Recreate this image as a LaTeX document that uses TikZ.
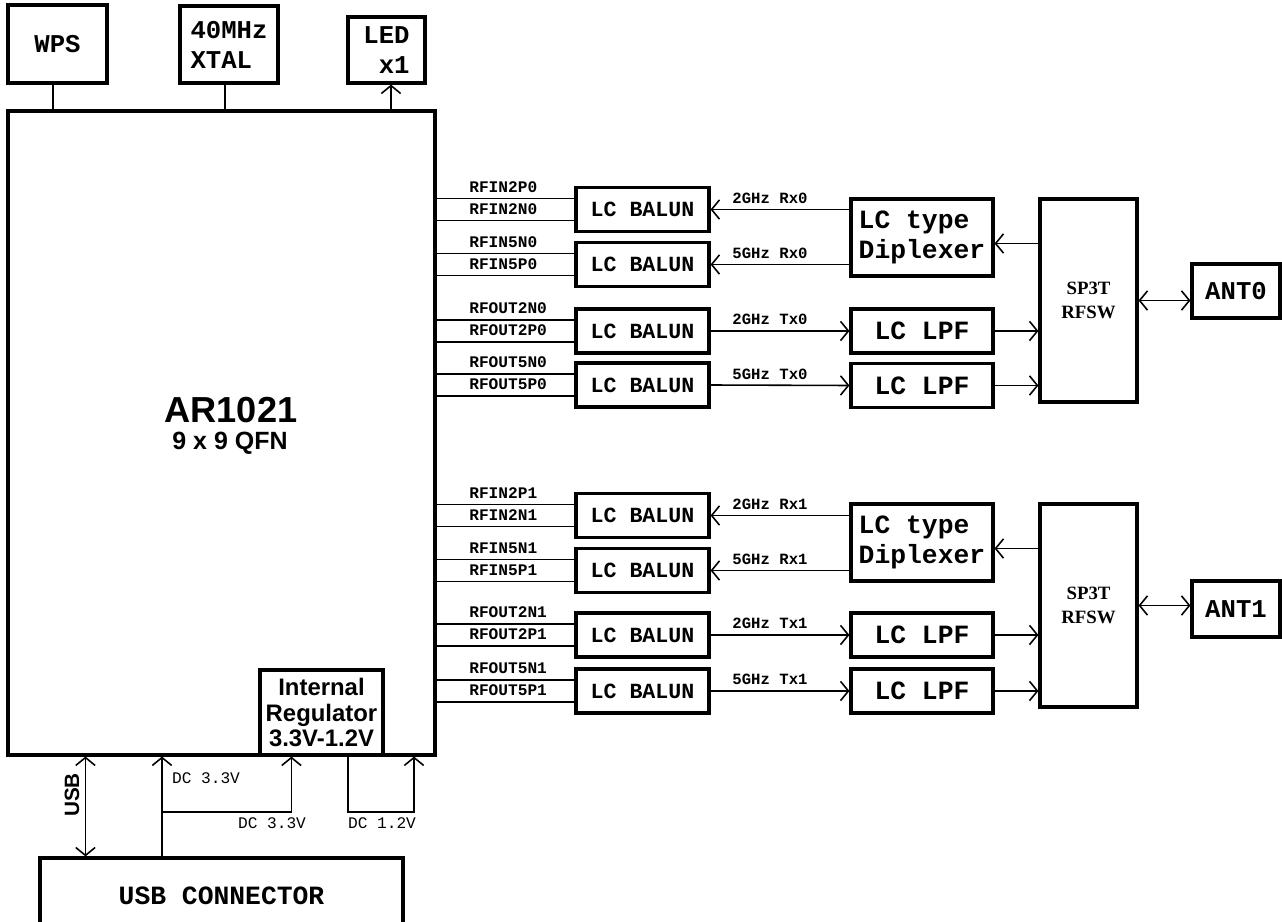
\documentclass[tikz,border=0pt]{standalone}
\usepackage{fontspec}
\usetikzlibrary{arrows.meta}
\newfontfamily\courfont{Liberation Mono}
\newfontfamily\arialfont{Liberation Sans}
\newfontfamily\swfont{Liberation Serif}

\begin{document}
\begin{tikzpicture}[
    x=0.02cm,y=-0.02cm,
    every node/.style={align=center},
    box/.style={rectangle,draw,line width=1.8pt,inner sep=0pt},
    topbox/.style={box,font=\courfont\bfseries\fontsize{14.6}{17}\selectfont},
    balun/.style={box,minimum width=2.66cm,minimum height=0.88cm,font=\courfont\bfseries\fontsize{12.3}{14}\selectfont},
    filt/.style={box,minimum width=2.84cm,minimum height=0.88cm,font=\courfont\bfseries\fontsize{15}{17}\selectfont},
    dip/.style={filt,minimum height=1.54cm,align=left},
    rfsw/.style={box,minimum width=1.94cm,minimum height=4.06cm,font=\swfont\bfseries\fontsize{10.7}{14}\selectfont},
    ant/.style={box,minimum width=1.76cm,minimum height=1.08cm,font=\courfont\bfseries\fontsize{14.6}{17}\selectfont},
    pin/.style={font=\courfont\bfseries\fontsize{9.2}{11}\selectfont,anchor=south west,inner xsep=0pt,inner ysep=3pt,xshift=0.64cm},
    band/.style={font=\courfont\bfseries\fontsize{8.9}{11}\selectfont,midway,anchor=south,inner ysep=3pt,xshift=-0.2cm},
    dclbl/.style={font=\courfont\fontsize{9.2}{11}\selectfont,inner sep=0pt},
    wire/.style={line width=0.9pt},
    arr/.style={-{Straight Barb[length=4.5pt,width=11pt]},line width=0.9pt},
    dbl/.style={{Straight Barb[length=4.5pt,width=11pt]}-{Straight Barb[length=4.5pt,width=11pt]},line width=0.9pt}
  ]
    \useasboundingbox (0,0) rectangle (1282,922);

    \node[topbox,minimum width=1.98cm,minimum height=1.56cm] (wps) at (57.5,44) {WPS};
    \node[topbox,minimum width=1.96cm,minimum height=1.54cm,align=left] (xtal) at (229,44.5) {40MHz\\XTAL};
    \node[topbox,minimum width=1.54cm,minimum height=1.32cm,align=right] (led) at (386.5,50) {LED\\x1};
    \node[box,minimum width=8.54cm,minimum height=12.88cm] (chip) at (221.5,433) {};
    \node[font=\arialfont\bfseries\fontsize{20.6}{24}\selectfont] (chipname) at (231,410) {AR1021};
    \node[font=\arialfont\bfseries\fontsize{14.2}{17}\selectfont] (chippkg) at (230,443) {9 x 9 QFN};
    \node[box,minimum width=2.46cm,minimum height=1.7cm,font=\arialfont\bfseries\fontsize{13.6}{14.7}\selectfont] (reg) at (321.5,712.5) {Internal\\Regulator\\3.3V-1.2V};
    \node[box,minimum width=7.26cm,minimum height=1.52cm,font=\courfont\bfseries\fontsize{15}{17}\selectfont] (usbc) at (221.5,896) {USB CONNECTOR};

    \draw[wire] ([xshift=-0.09cm]wps.south) -- ([xshift=-0.09cm]wps.south |- chip.north);
    \draw[wire] ([xshift=-0.08cm]xtal.south) -- ([xshift=-0.08cm]xtal.south |- chip.north);
    \draw[arr] ([xshift=0.09cm]led.south |- chip.north) -- ([xshift=0.09cm]led.south);

    \draw[dbl] ([xshift=0.94cm]usbc.north west) -- ([xshift=0.94cm]usbc.north west |- chip.south);
    \node[rotate=90,font=\arialfont\bfseries\fontsize{11.8}{14}\selectfont] (usblbl) at (72,795) {USB};
    \coordinate (dcx) at (162,812);
    \draw[arr] (dcx |- usbc.north) -- (dcx |- chip.south);
    \draw[arr] (dcx) -| ([xshift=0.66cm]reg.south west);
    \coordinate (vlo) at (348,812);
    \coordinate (vhi) at (414,812);
    \draw[arr] (vlo |- chip.south) -- (vlo) -- (vhi) -- (vhi |- chip.south);
    \node[dclbl] (dc1) at (206,778) {DC 3.3V};
    \node[dclbl] (dc2) at (272,823) {DC 3.3V};
    \node[dclbl] (dc3) at (382,823) {DC 1.2V};

    \node[balun] (b1) at (642.5,209.5) {LC BALUN};
    \node[balun] (b2) at (642.5,264.5) {LC BALUN};
    \node[balun] (b3) at (642.5,331) {LC BALUN};
    \node[balun] (b4) at (642.5,385) {LC BALUN};
    \node[dip] (dip0) at (922,237.5) {LC type\\Diplexer};
    \node[filt] (lpf0a) at (922,331) {LC LPF};
    \node[filt] (lpf0b) at (922,385.5) {LC LPF};
    \node[rfsw] (sw0) at (1088.5,300.5) {SP3T\\RFSW};
    \node[ant,minimum height=1.08cm] (ant0) at (1236,291) {ANT0};

    \node[balun] (b5) at (642.5,515.5) {LC BALUN};
    \node[balun] (b6) at (642.5,570.5) {LC BALUN};
    \node[balun] (b7) at (642.5,635) {LC BALUN};
    \node[balun] (b8) at (642.5,691) {LC BALUN};
    \node[dip] (dip1) at (922,542.5) {LC type\\Diplexer};
    \node[filt] (lpf1a) at (922,635) {LC LPF};
    \node[filt] (lpf1b) at (922,691) {LC LPF};
    \node[rfsw] (sw1) at (1088.5,605.5) {SP3T\\RFSW};
    \node[ant,minimum height=1.12cm] (ant1) at (1236,609) {ANT1};

    \draw[wire] ([yshift=0.22cm]b1.west -| chip.east) -- ([yshift=0.22cm]b1.west) node[pin,pos=0] {RFIN2P0};
    \draw[wire] ([yshift=-0.22cm]b1.west -| chip.east) -- ([yshift=-0.22cm]b1.west) node[pin,pos=0] {RFIN2N0};
    \draw[wire] ([yshift=0.22cm]b2.west -| chip.east) -- ([yshift=0.22cm]b2.west) node[pin,pos=0] {RFIN5N0};
    \draw[wire] ([yshift=-0.22cm]b2.west -| chip.east) -- ([yshift=-0.22cm]b2.west) node[pin,pos=0] {RFIN5P0};
    \draw[wire] ([yshift=0.22cm]b3.west -| chip.east) -- ([yshift=0.22cm]b3.west) node[pin,pos=0] {RFOUT2N0};
    \draw[wire] ([yshift=-0.22cm]b3.west -| chip.east) -- ([yshift=-0.22cm]b3.west) node[pin,pos=0] {RFOUT2P0};
    \draw[wire] ([yshift=0.22cm]b4.west -| chip.east) -- ([yshift=0.22cm]b4.west) node[pin,pos=0] {RFOUT5N0};
    \draw[wire] ([yshift=-0.22cm]b4.west -| chip.east) -- ([yshift=-0.22cm]b4.west) node[pin,pos=0] {RFOUT5P0};

    \draw[wire] ([yshift=0.22cm]b5.west -| chip.east) -- ([yshift=0.22cm]b5.west) node[pin,pos=0] {RFIN2P1};
    \draw[wire] ([yshift=-0.22cm]b5.west -| chip.east) -- ([yshift=-0.22cm]b5.west) node[pin,pos=0] {RFIN2N1};
    \draw[wire] ([yshift=0.22cm]b6.west -| chip.east) -- ([yshift=0.22cm]b6.west) node[pin,pos=0] {RFIN5N1};
    \draw[wire] ([yshift=-0.22cm]b6.west -| chip.east) -- ([yshift=-0.22cm]b6.west) node[pin,pos=0] {RFIN5P1};
    \draw[wire] ([yshift=0.22cm]b7.west -| chip.east) -- ([yshift=0.22cm]b7.west) node[pin,pos=0] {RFOUT2N1};
    \draw[wire] ([yshift=-0.22cm]b7.west -| chip.east) -- ([yshift=-0.22cm]b7.west) node[pin,pos=0] {RFOUT2P1};
    \draw[wire] ([yshift=0.22cm]b8.west -| chip.east) -- ([yshift=0.22cm]b8.west) node[pin,pos=0] {RFOUT5N1};
    \draw[wire] ([yshift=-0.22cm]b8.west -| chip.east) -- ([yshift=-0.22cm]b8.west) node[pin,pos=0] {RFOUT5P1};

    \draw[arr] (dip0.west |- b1.east) -- (b1.east) node[band] {2GHz Rx0};
    \draw[arr] (dip0.west |- b2.east) -- (b2.east) node[band] {5GHz Rx0};
    \draw[arr] (b3.east) -- (lpf0a.west) node[band] {2GHz Tx0};
    \draw[arr] (b4.east) -- (lpf0b.west) node[band] {5GHz Tx0};
    \draw[arr] ([yshift=-0.12cm]dip0.east -| sw0.west) -- ([yshift=-0.12cm]dip0.east);
    \draw[arr] (lpf0a.east) -- (lpf0a.east -| sw0.west);
    \draw[arr] (lpf0b.east) -- (lpf0b.east -| sw0.west);
    \draw[dbl] (sw0.east) -- (sw0.east -| ant0.west);

    \draw[arr] (dip1.west |- b5.east) -- (b5.east) node[band] {2GHz Rx1};
    \draw[arr] (dip1.west |- b6.east) -- (b6.east) node[band] {5GHz Rx1};
    \draw[arr] (b7.east) -- (lpf1a.west) node[band] {2GHz Tx1};
    \draw[arr] (b8.east) -- (lpf1b.west) node[band] {5GHz Tx1};
    \draw[arr] ([yshift=-0.12cm]dip1.east -| sw1.west) -- ([yshift=-0.12cm]dip1.east);
    \draw[arr] (lpf1a.east) -- (lpf1a.east -| sw1.west);
    \draw[arr] (lpf1b.east) -- (lpf1b.east -| sw1.west);
    \draw[dbl] (sw1.east) -- (sw1.east -| ant1.west);
  \end{tikzpicture}
\end{document}
